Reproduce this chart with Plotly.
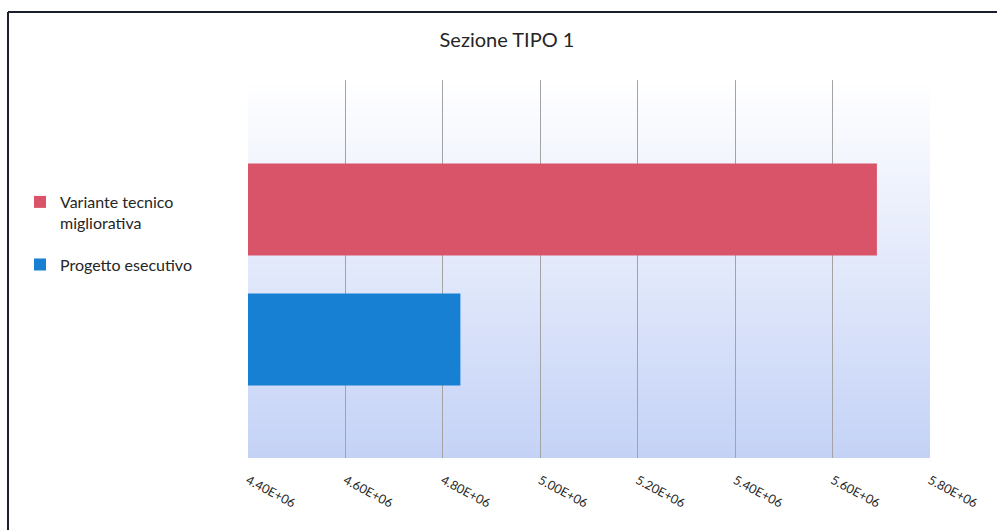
import plotly.graph_objects as go

# Data
categories = ["Sezione TIPO 1"]
progetto_esecutivo = [4836000]
variante_migliorativa = [5691000]
series_names = ["Progetto esecutivo", "Variante tecnico<br>migliorativa"]
tick_values = [4.4e6, 4.6e6, 4.8e6, 5.0e6, 5.2e6, 5.4e6, 5.6e6, 5.8e6]
tick_labels = ["4.40E+06", "4.60E+06", "4.80E+06", "5.00E+06",
               "5.20E+06", "5.40E+06", "5.60E+06", "5.80E+06"]

# Canvas and plot-area geometry (pixels)
W, H = 997, 530
ML, MR, MT, MB = 248, 67, 80, 72
PW, PH = W - ML - MR, H - MT - MB


def paper_x(px):
    return (px - ML) / PW


def paper_y(py):
    return (H - MB - py) / PH


FONT = "Lato"
BLUE = "#1780d2"
RED = "#d95468"

fig = go.Figure()
fig.add_trace(go.Bar(
    y=categories, x=progetto_esecutivo, orientation="h",
    name=series_names[0], marker=dict(color=BLUE, line=dict(width=0)),
    legendgroup="a", legendrank=2,
))
fig.add_trace(go.Bar(
    y=categories, x=variante_migliorativa, orientation="h",
    name=series_names[1], marker=dict(color=RED, line=dict(width=0)),
    legendgroup="b", legendrank=1,
))

# Vertical gradient fill of the plot area: white at top to pale blue at bottom
shapes = []
n = 80
top = (255, 255, 255)
bottom = (196, 210, 246)
for i in range(n):
    t = (i + 0.5) / n  # 0 at bottom, 1 at top
    c = tuple(round(bottom[k] + (top[k] - bottom[k]) * t) for k in range(3))
    shapes.append(dict(
        type="rect", xref="x domain", yref="y domain",
        x0=0, x1=1, y0=i / n, y1=(i + 1) / n + 0.002,
        fillcolor="rgb(%d,%d,%d)" % c, line=dict(width=0), layer="below",
    ))

# Chart frame (top and left edges visible)
shapes.append(dict(type="line", xref="paper", yref="paper",
                   x0=paper_x(8), x1=paper_x(1005), y0=paper_y(12), y1=paper_y(12),
                   line=dict(color="#1b1f2e", width=2)))
shapes.append(dict(type="line", xref="paper", yref="paper",
                   x0=paper_x(8), x1=paper_x(8), y0=paper_y(12), y1=paper_y(540),
                   line=dict(color="#1b1f2e", width=2)))

fig.update_layout(
    width=W, height=H,
    margin=dict(l=ML, r=MR, t=MT, b=MB),
    paper_bgcolor="white", plot_bgcolor="white",
    barmode="group", bargap=0.312, bargroupgap=0.292,
    font=dict(family=FONT, color="#262626"),
    title=dict(text="Sezione TIPO 1", x=507 / W, xanchor="center",
               y=1 - 40 / H, yanchor="middle", yref="container",
               font=dict(family=FONT, size=20, color="#262626")),
    xaxis=dict(range=[4.4e6, 5.8e6], tickvals=tick_values, ticktext=tick_labels,
               tickangle=28, showgrid=True, gridcolor="#a3a3a3", gridwidth=1,
               zeroline=False, showline=False, ticks="", ticklabelstandoff=12,
               tickfont=dict(family=FONT, size=12.5, color="#262626")),
    yaxis=dict(range=[-0.5 + 0.0146, 0.5 + 0.0146], showticklabels=False,
               showgrid=False, zeroline=False, showline=False, ticks=""),
    legend=dict(x=paper_x(20), xanchor="left", y=paper_y(185), yanchor="top",
                traceorder="grouped", valign="top", itemwidth=30,
                tracegroupgap=18, bgcolor="rgba(0,0,0,0)",
                font=dict(family=FONT, size=16, color="#262626")),
    shapes=shapes,
)

fig.write_html("out.html")
